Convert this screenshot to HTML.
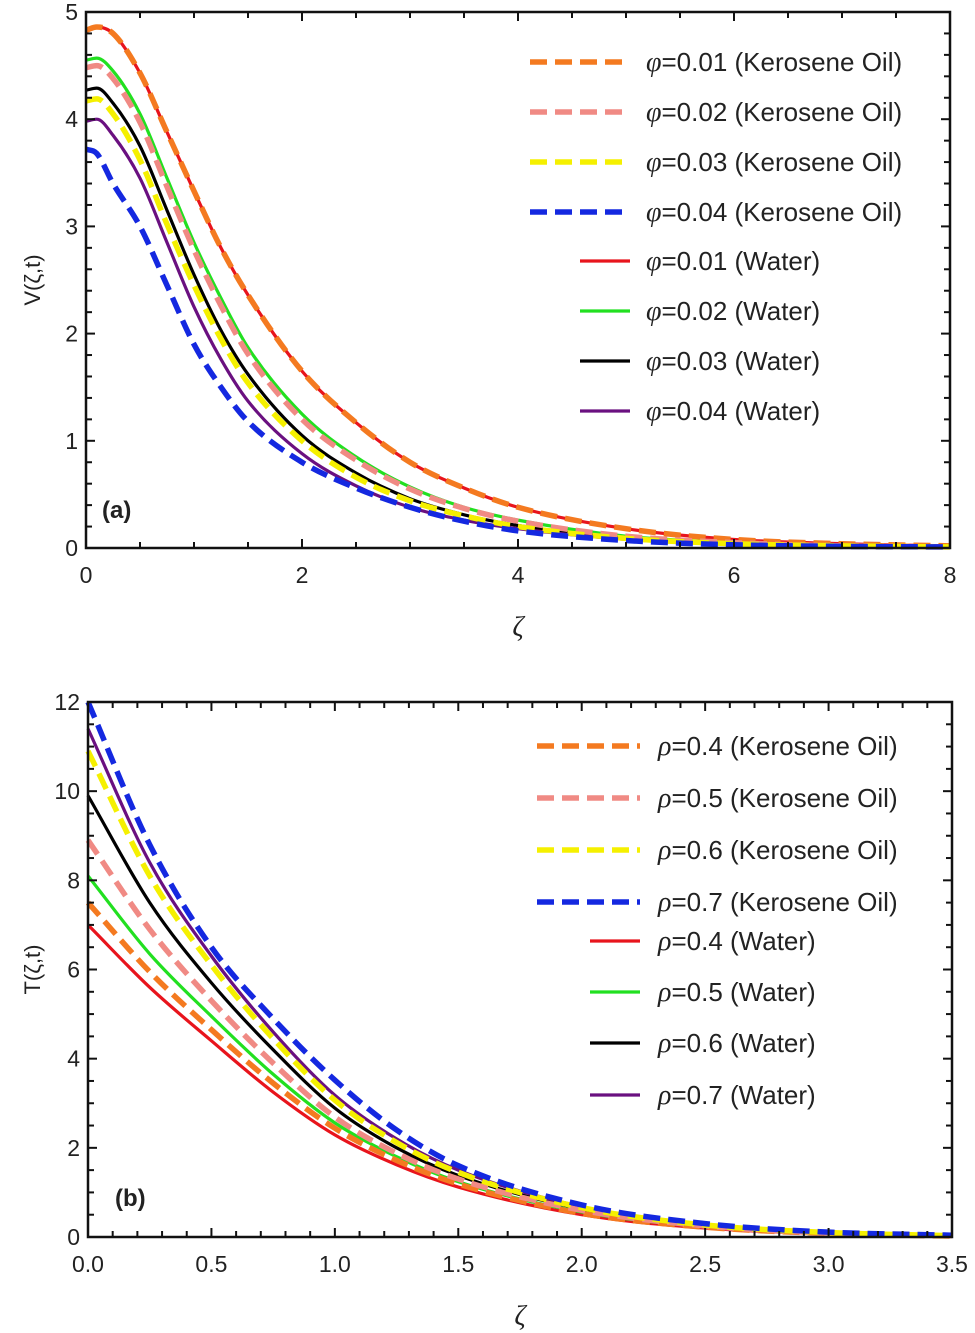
<!DOCTYPE html>
<html><head><meta charset="utf-8"><style>
body{margin:0;background:#fff;}
svg{display:block;font-family:"Liberation Sans",Arial,sans-serif;}
</style></head><body>
<svg id="s" width="975" height="1333" viewBox="0 0 975 1333"></svg>
<script>
const xA=[0,0.1,0.25,0.5,0.75,1,1.25,1.5,2,2.5,3,3.5,4,5,6,7,8];
const aOrange=[4.83,4.86,4.80,4.43,3.88,3.33,2.80,2.36,1.65,1.17,0.80,0.56,0.38,0.18,0.08,0.04,0.02];
const aRed=[4.83,4.86,4.80,4.43,3.88,3.33,2.80,2.36,1.65,1.17,0.80,0.56,0.38,0.18,0.08,0.04,0.02];
const aPink=[4.48,4.50,4.38,3.97,3.37,2.78,2.26,1.81,1.20,0.82,0.55,0.37,0.25,0.11,0.05,0.02,0.01];
const aGreen=[4.55,4.57,4.45,4.05,3.45,2.85,2.33,1.87,1.25,0.85,0.57,0.38,0.26,0.11,0.05,0.02,0.01];
const aYellow=[4.17,4.19,4.05,3.62,3.02,2.45,1.95,1.54,1.00,0.66,0.44,0.30,0.20,0.09,0.04,0.02,0.01];
const aBlack=[4.27,4.29,4.15,3.75,3.15,2.55,2.03,1.62,1.05,0.70,0.46,0.31,0.21,0.09,0.04,0.02,0.01];
const aPurple=[3.98,4.00,3.85,3.45,2.85,2.25,1.76,1.37,0.88,0.58,0.38,0.26,0.18,0.08,0.035,0.015,0.01];
const aBlue=[3.72,3.68,3.40,3.00,2.45,1.90,1.50,1.18,0.80,0.56,0.38,0.25,0.16,0.07,0.03,0.015,0.01];
const xB=[0,0.25,0.5,0.75,1,1.25,1.5,2,2.5,3,3.5];
const bRed=[7.0,5.6,4.4,3.25,2.29,1.62,1.12,0.5,0.2,0.07,0.02];
const bOrange=[7.5,5.95,4.65,3.45,2.44,1.72,1.19,0.53,0.22,0.08,0.02];
const bGreen=[8.1,6.35,4.95,3.65,2.56,1.8,1.24,0.56,0.23,0.08,0.02];
const bPink=[8.9,6.9,5.3,3.9,2.69,1.88,1.3,0.6,0.25,0.09,0.03];
const bBlack=[9.9,7.5,5.7,4.2,2.89,2.0,1.38,0.63,0.26,0.1,0.03];
const bYellow=[10.9,8.1,6.1,4.45,3.07,2.12,1.45,0.66,0.27,0.1,0.03];
const bPurple=[11.4,8.4,6.3,4.6,3.18,2.2,1.5,0.68,0.28,0.1,0.03];
const bBlue=[12.0,8.8,6.5,4.9,3.52,2.4,1.6,0.72,0.3,0.11,0.04];
const aXTicks=["0","2","4","6","8"];
const aYTicks=["0","1","2","3","4","5"];
const bXTicks=["0.0","0.5","1.0","1.5","2.0","2.5","3.0","3.5"];
const bYTicks=["0","2","4","6","8","10","12"];
const aLegend=["=0.01 (Kerosene Oil)","=0.02 (Kerosene Oil)","=0.03 (Kerosene Oil)","=0.04 (Kerosene Oil)","=0.01 (Water)","=0.02 (Water)","=0.03 (Water)","=0.04 (Water)"];
const bLegend=["=0.4 (Kerosene Oil)","=0.5 (Kerosene Oil)","=0.6 (Kerosene Oil)","=0.7 (Kerosene Oil)","=0.4 (Water)","=0.5 (Water)","=0.6 (Water)","=0.7 (Water)"];

const S=document.getElementById('s');const NS='http://www.w3.org/2000/svg';
function el(t,a,p){const e=document.createElementNS(NS,t);for(const k in a)e.setAttribute(k,a[k]);(p||S).appendChild(e);return e;}
function txt(x,y,s,a,p){const e=el('text',Object.assign({x:x,y:y,'font-size':23,fill:'#222'},a||{}),p);e.textContent=s;return e;}
function mono(xs,ys){
  const n=xs.length,d=[],m=[];
  for(let i=0;i<n-1;i++)d.push((ys[i+1]-ys[i])/(xs[i+1]-xs[i]));
  m[0]=d[0];m[n-1]=d[n-2];
  for(let i=1;i<n-1;i++){m[i]=(d[i-1]*d[i]<=0)?0:(d[i-1]+d[i])/2;}
  for(let i=0;i<n-1;i++){if(d[i]===0){m[i]=m[i+1]=0;continue;}const a=m[i]/d[i],b=m[i+1]/d[i],h=a*a+b*b;if(h>9){const t=3/Math.sqrt(h);m[i]=t*a*d[i];m[i+1]=t*b*d[i];}}
  return m;
}
function panel(cfg){
  const g=el('g',{});
  
  
  const sx=v=>cfg.L+(v-cfg.x0)/(cfg.x1-cfg.x0)*(cfg.R-cfg.L);
  const sy=v=>cfg.B-(v-cfg.y0)/(cfg.y1-cfg.y0)*(cfg.B-cfg.T);
  const order=[4,5,6,7,0,1,2,3];
  order.forEach(k=>{
    const s=cfg.series[k];const xs=cfg.xs,ys=s.v,m=mono(xs,ys);
    let d='M'+sx(xs[0])+','+sy(ys[0]);
    for(let i=0;i<xs.length-1;i++){
      const h=xs[i+1]-xs[i];
      d+=' C'+sx(xs[i]+h/3)+','+sy(ys[i]+m[i]*h/3)+' '+sx(xs[i+1]-h/3)+','+sy(ys[i+1]-m[i+1]*h/3)+' '+sx(xs[i+1])+','+sy(ys[i+1]);
    }
    const p=el('path',{d:d,fill:'none',stroke:s.c,'stroke-width':s.dash?5.5:3.2,'stroke-dasharray':s.dash?'17 8':'none'},g);
    
    
  });
  const f=el('rect',{x:cfg.L,y:cfg.T,width:cfg.R-cfg.L,height:cfg.B-cfg.T,fill:'none',stroke:'#111','stroke-width':2.5},g);
  
  
  const nx=Math.round((cfg.x1-cfg.x0)/cfg.xm),ny=Math.round((cfg.y1-cfg.y0)/cfg.ym),rx=Math.round(cfg.xM/cfg.xm),ry=Math.round(cfg.yM/cfg.ym);
  for(let i=0;i<=nx;i++){
    const X=sx(cfg.x0+i*cfg.xm);const l=(i%rx===0)?9:6;
    el('line',{x1:X,y1:cfg.B,x2:X,y2:cfg.B-l,stroke:'#111','stroke-width':2},g);
    el('line',{x1:X,y1:cfg.T,x2:X,y2:cfg.T+l,stroke:'#111','stroke-width':2},g);
  }
  for(let i=0;i<=ny;i++){
    const Y=sy(cfg.y0+i*cfg.ym);const l=(i%ry===0)?9:6;
    el('line',{x1:cfg.L,y1:Y,x2:cfg.L+l,y2:Y,stroke:'#111','stroke-width':2},g);
    el('line',{x1:cfg.R,y1:Y,x2:cfg.R-l,y2:Y,stroke:'#111','stroke-width':2},g);
  }
  cfg.xt.forEach((s,i)=>{const t=txt(sx(cfg.x0+i*cfg.xM),cfg.B+35,s,{'text-anchor':'middle'},g);});
  cfg.yt.forEach((s,i)=>{const t=txt(cfg.L-8,sy(cfg.y0+i*cfg.yM)+8,s,{'text-anchor':'end'},g);});
  const xt=txt((cfg.L+cfg.R)/2,cfg.B+88,'ζ',{'text-anchor':'middle','font-style':'italic','font-family':'"Liberation Serif",serif','font-size':28},g);
  
  const yy=(cfg.T+cfg.B)/2;
  const yt=txt(40,yy,cfg.ylab,{'text-anchor':'middle',transform:'rotate(-90 40 '+yy+')','font-size':22},g);
  
  const pl=txt(cfg.plx,cfg.ply,cfg.plabel,{'font-weight':'bold','font-size':24},g);
  
  cfg.series.forEach((s,i)=>{
    const ly=cfg.legY[i];
    const x1=s.dash?cfg.lx1d:cfg.lx1s;
    const ln=el('line',{x1:x1,y1:ly,x2:cfg.lx2,y2:ly,stroke:s.c,'stroke-width':s.dash?5.5:3.2,'stroke-dasharray':s.dash?'17 8':'none'},g);
    
    const t=el('text',{x:cfg.ltx,y:ly+9,'font-size':26,fill:'#222'},g);
    
    const sym=el('tspan',{'font-style':'italic','font-family':'"Liberation Serif",serif','font-size':28},t);sym.textContent=cfg.sym;
    const rest=el('tspan',{},t);rest.textContent=cfg.leg[i];
  });
}
const colsK=['#f47a20','#f08a84','#f5f000','#1428e0'];const colsW=['#e8141c','#22e020','#000','#6a1080'];
panel({name:'chart-a',xs:xA,leg:aLegend,legY:[62,112,162,212,261,311,361,411],sym:'φ',series:[
 {n:'kerosene-001',v:aOrange,c:colsK[0],dash:true},{n:'kerosene-002',v:aPink,c:colsK[1],dash:true},{n:'kerosene-003',v:aYellow,c:colsK[2],dash:true},{n:'kerosene-004',v:aBlue,c:colsK[3],dash:true},
 {n:'water-001',v:aRed,c:colsW[0],dash:false},{n:'water-002',v:aGreen,c:colsW[1],dash:false},{n:'water-003',v:aBlack,c:colsW[2],dash:false},{n:'water-004',v:aPurple,c:colsW[3],dash:false}],
 L:86,R:950,T:12,B:548,x0:0,x1:8,y0:0,y1:5,xm:0.5,xM:2,ym:0.2,yM:1,xt:aXTicks,yt:aYTicks,ylab:'V(ζ,t)',plabel:'(a)',plx:102,ply:518,lx1d:530,lx1s:580,lx2:630,ltx:646});
panel({name:'chart-b',xs:xB,leg:bLegend,legY:[746,798,850,902,941,992,1043,1095],sym:'ρ',series:[
 {n:'kerosene-04',v:bOrange,c:colsK[0],dash:true},{n:'kerosene-05',v:bPink,c:colsK[1],dash:true},{n:'kerosene-06',v:bYellow,c:colsK[2],dash:true},{n:'kerosene-07',v:bBlue,c:colsK[3],dash:true},
 {n:'water-04',v:bRed,c:colsW[0],dash:false},{n:'water-05',v:bGreen,c:colsW[1],dash:false},{n:'water-06',v:bBlack,c:colsW[2],dash:false},{n:'water-07',v:bPurple,c:colsW[3],dash:false}],
 L:88,R:952,T:702,B:1237,x0:0,x1:3.5,y0:0,y1:12,xm:0.1,xM:0.5,ym:0.5,yM:2,xt:bXTicks,yt:bYTicks,ylab:'T(ζ,t)',plabel:'(b)',plx:115,ply:1206,lx1d:537,lx1s:590,lx2:640,ltx:658});
</script>
</body></html>
